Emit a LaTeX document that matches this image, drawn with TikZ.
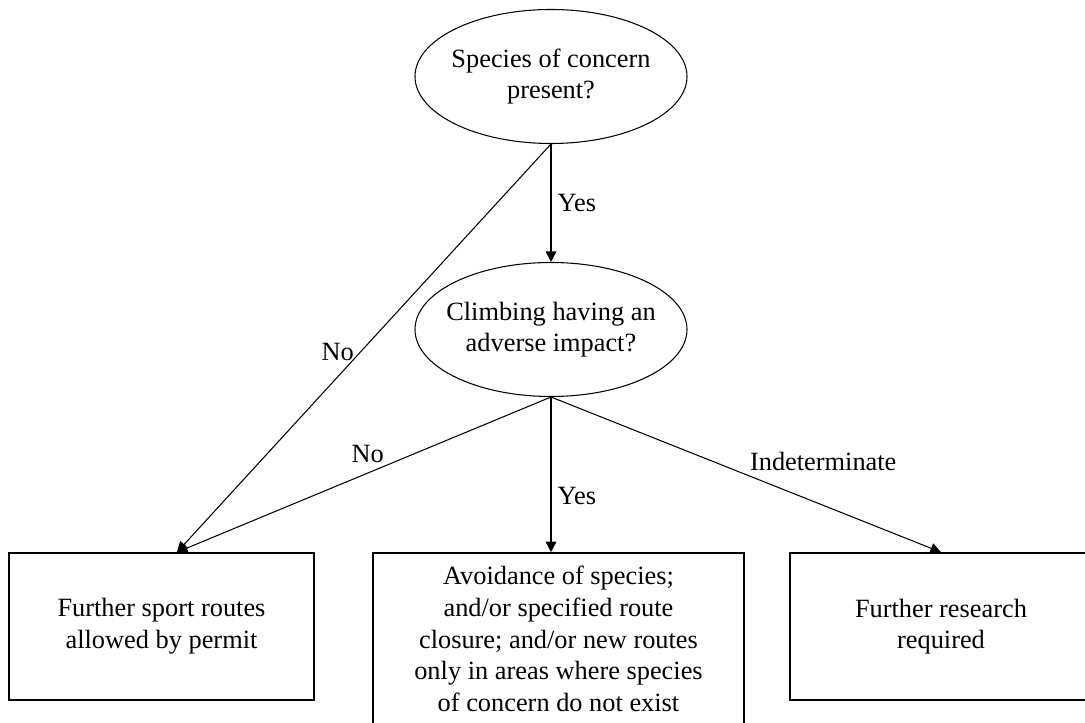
\documentclass[tikz,border=0pt]{standalone}
\usepackage{fontspec}
\setmainfont{Liberation Serif}
\usetikzlibrary{arrows.meta,shapes.geometric}

\tikzset{
  question/.style={draw,ellipse,align=center,line width=0.6pt,minimum width=5.44cm,minimum height=2.68cm,inner xsep=-5pt,inner ysep=0pt},
  outcome/.style={draw,rectangle,align=center,line width=0.9pt,inner sep=0pt},
  thin line/.style={line width=0.6pt},
  thick line/.style={line width=0.9pt}
}

\begin{document}
\begin{tikzpicture}[>={Triangle[length=6pt,width=6pt]},font=\fontsize{15}{18}\selectfont]
\useasboundingbox (0,0) rectangle (21.7,14.46);
% questions
\node[question](q1) at (11.02,12.93){Species of concern\\present?};
\node[question](q2) at (11.02,7.87){Climbing having an\\adverse impact?};
% outcomes
\node[outcome,minimum width=6.1cm,minimum height=2.94cm](lbox) at (3.23,1.93){Further sport routes\\allowed by permit};
\node[outcome,minimum width=7.42cm,minimum height=3.44cm](mbox) at (11.17,1.68){Avoidance of species;\\and/or specified route\\closure; and/or new routes\\only in areas where species\\of concern do not exist};
\node[outcome,minimum width=6.04cm,minimum height=2.94cm](rbox) at (18.82,1.93){Further research\\required};
\coordinate (lin) at (3.54,0);
% connectors
\draw[->,thick line](q1.south)--(q2.north) node[midway,right]{Yes};
\draw[->,thin line](q1.south)--(lbox.north -| lin) node[pos=0.51,left]{No};
\draw[->,thin line](q2.south)--(lbox.north -| lin) node[pos=0.49,above=2pt]{No};
\draw[->,thick line](q2.south)--(mbox.north -| q2.south) node[pos=0.64,right]{Yes};
\draw[->,thin line](q2.south)--(rbox.north) node[pos=0.5,anchor=south west,inner sep=2pt]{Indeterminate};
\end{tikzpicture}
\end{document}
